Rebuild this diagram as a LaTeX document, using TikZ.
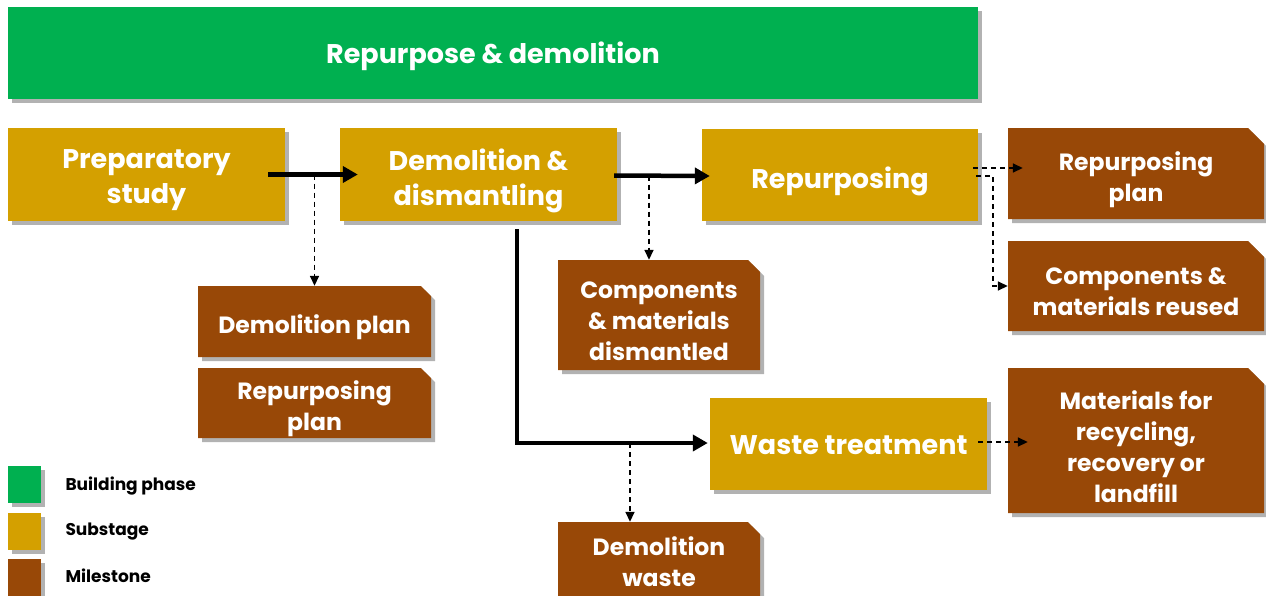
\documentclass[tikz,border=0pt]{standalone}
\usepackage{fontspec}
\setmainfont{Poppins}
\usetikzlibrary{arrows.meta,calc,shapes.misc,shadows}
\definecolor{phasegreen}{HTML}{00B050}
\definecolor{stagegold}{HTML}{D4A000}
\definecolor{milebrown}{HTML}{984807}
\tikzset{
  wh/.style 2 args={minimum width=#1pt, minimum height=#2pt},
  boxshadow/.style={drop shadow={shadow xshift=4pt, shadow yshift=-4pt, fill=black, opacity=0.3}},
  base/.style={inner sep=0pt, boxshadow},
  % box captions sit slightly below the geometric centre
  caption/.style={text=white, align=center, inner sep=0pt},
  phasetext/.style={caption, yshift=-3pt, font=\fontsize{27}{34}\selectfont\bfseries},
  stagetext/.style={caption, yshift=-6pt, font=\fontsize{27}{35}\selectfont\bfseries},
  miletext/.style={caption, yshift=-6pt, font=\fontsize{23.5}{31}\selectfont\bfseries},
  phasebox/.style={base, fill=phasegreen, label={[phasetext]center:#1}},
  stagebox/.style={base, fill=stagegold, label={[stagetext]center:#1}},
  % the invisible rule gives the chamfered shape a body to cut its corner from
  milebox/.style 2 args={base, fill=milebrown, chamfered rectangle,
    chamfered rectangle corners=north east, chamfered rectangle sep=#1pt,
    execute at begin node={\rule{0pt}{40pt}},
    label={[miletext]center:#2}},
  keybox/.style={boxshadow, minimum width=33pt, minimum height=37pt, inner sep=0pt},
  keytext/.style={anchor=west, font=\fontsize{17}{19}\selectfont\bfseries},
  flow/.style={line width=4.5pt, -{Triangle[length=15pt,width=16pt]}},
  output/.style={line width=1.6pt, dash pattern=on 5pt off 4pt, -{Triangle[length=10pt,width=9pt]}}
}
\begin{document}
\begin{tikzpicture}[x=1pt, y=-1pt]
\useasboundingbox (0,0) rectangle (1266,595);

% building phase
\node[phasebox={Repurpose \& demolition}, wh={970}{92}] (phase) at (493,53) {};

% substages
\node[stagebox={Preparatory\\study}, wh={277}{93}] (prep) at (146.5,174.5) {};
\node[stagebox={Demolition \&\\dismantling}, wh={277}{93}] (demo) at (478.5,174.5) {};
\node[stagebox={Repurposing}, wh={276}{92}] (repu) at (840,175) {};
\begin{scope}[stagetext/.append style={yshift=5pt}]
\node[stagebox={Waste treatment}, wh={277}{92}] (waste) at (848.5,444) {};
\end{scope}

% milestones
\node[milebox={10}{Demolition plan}, wh={233}{71}] (demplan) at (314.5,321.5) {};
\node[milebox={10}{Repurposing\\plan}, wh={233}{70}] (rpplanA) at (314.5,403) {};
\node[milebox={12}{Components\\\& materials\\dismantled}, wh={202}{110}] (dism) at (659,315) {};
\begin{scope}[miletext/.append style={yshift=6pt}]
\node[milebox={12}{Demolition\\waste}, wh={202}{80}] (dwaste) at (659,562) {};
\end{scope}
\node[milebox={16}{Repurposing\\plan}, wh={256}{91}] (rpplanB) at (1136,173.5) {};
\node[milebox={16}{Components \&\\materials reused}, wh={256}{90}] (reused) at (1136,286) {};
\node[milebox={16}{{Materials for\\recycling,\\recovery or\\landfill}}, wh={256}{145}] (recyc) at (1136,440.5) {};

% main flow
\draw[flow] ($(prep.east)+(-17,0)$) -- ($(demo.west)+(18,0)$);
\draw[flow] ($(demo.east)+(-3,1)$) -- ($(repu.west)+(8,1)$);
\draw[flow] ($(demo.south)+(38.5,8)$) |- ($(waste.west)+(-2,-1)$);

% outputs
\draw[output] (prep.east -| demplan.north) -- (demplan.north);
\coordinate (dismtop) at ($(dism.north)+(-10,0)$);
\draw[output] ($(demo.east -| dismtop)+(0,1)$) -- (dismtop);
\coordinate (dwastetop) at ($(dwaste.north)+(-29,0)$);
\draw[output] ($(waste.west -| dwastetop)+(0,-1)$) -- (dwastetop);
\draw[output] ($(repu.east)+(-5,-7)$) -- ($(repu.east -| rpplanB.west)+(15,-7)$);
\draw[output] ($(repu.east)+(-2,1)$) -- ++(17,0) |- (reused.west);
\draw[output] ($(waste.east)+(-9,-2)$) -- ($(waste.east -| recyc.west)+(20,-2)$);

% legend
\node[keybox, fill=phasegreen] (kphase) at (24.5,484.5) {};
\node[keybox, fill=stagegold]  (kstage) at (24.5,531) {};
\node[keybox, fill=milebrown]  (kmile)  at (24.5,577) {};
\node[keytext] (tphase) at (62,486) {Building phase};
\node[keytext] (tstage) at (62,532) {Substage};
\node[keytext] (tmile)  at (62,576) {Milestone};
\end{tikzpicture}
\end{document}
